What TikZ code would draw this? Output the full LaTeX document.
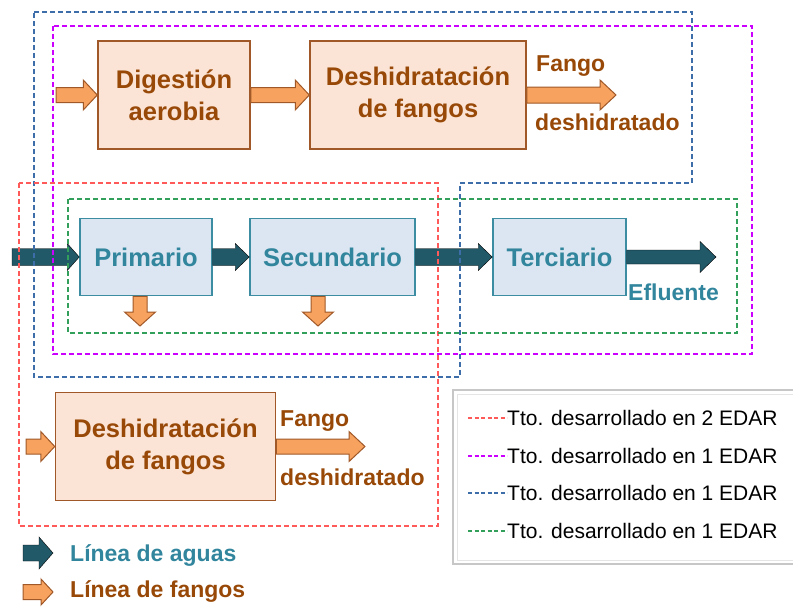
\documentclass[tikz,border=0pt]{standalone}
\usepackage{fontspec}
\setmainfont{Liberation Sans}
\usetikzlibrary{calc}
\definecolor{fangofill}{RGB}{251,228,213}
\definecolor{fangoline}{RGB}{160,88,40}
\definecolor{fangotext}{RGB}{152,72,7}
\definecolor{fangoorange}{RGB}{247,163,95}
\definecolor{aguafill}{RGB}{220,230,242}
\definecolor{agualine}{RGB}{60,140,162}
\definecolor{aguatext}{RGB}{49,133,156}
\definecolor{aguadark}{RGB}{33,89,104}
\definecolor{edarred}{RGB}{255,90,90}
\definecolor{edarmag}{RGB}{204,0,255}
\definecolor{edarblue}{RGB}{62,110,170}
\definecolor{edargreen}{RGB}{50,160,90}
%% block arrow: style, from, to, shaft half width, head half width, head length
\newcommand{\blockarrow}[6]{%
  \path (#2) coordinate (ba-a) (#3) coordinate (ba-b);
  \coordinate (ba-h) at ($(ba-b)!#6!(ba-a)$);
  \draw[#1] ($(ba-a)!#4!90:(ba-b)$) -- ($(ba-h)!#4!90:(ba-b)$) -- ($(ba-h)!#5!90:(ba-b)$)
    -- (ba-b) -- ($(ba-h)!#5!-90:(ba-b)$) -- ($(ba-h)!#4!-90:(ba-b)$) -- ($(ba-a)!#4!-90:(ba-b)$) -- cycle;}
\tikzset{
  fangobox/.style={draw=fangoline,fill=fangofill,line width=1.5pt,text=fangotext,
    font=\bfseries\fontsize{25.5}{32}\selectfont,align=center,minimum height=108pt,inner sep=0pt},
  aguabox/.style={draw=agualine,fill=aguafill,line width=1.5pt,text=aguatext,
    font=\bfseries\fontsize{25.5}{30}\selectfont,minimum height=77pt,inner sep=0pt},
  fangoarrow/.style={draw=fangoline,fill=fangoorange,line width=1pt},
  aguaarrow/.style={fill=aguadark},
  fangolabel/.style={text=fangotext,font=\bfseries\fontsize{23}{26}\selectfont,anchor=west,inner sep=0pt},
  agualabel/.style={text=aguatext,font=\bfseries\fontsize{23}{26}\selectfont,anchor=west,inner sep=0pt},
  edarframe/.style={dash pattern=on 5pt off 3pt,line width=1.4pt},
  legtext/.style={font=\fontsize{21}{24}\selectfont,anchor=west,inner sep=0pt}
}
\begin{document}
\begin{tikzpicture}[x=1pt,y=-1pt]
  \useasboundingbox (0,0) rectangle (793,608);
  %% sludge line, top
  \node[fangobox,minimum width=152pt] (dig) at (174,95) {Digestión\\aerobia};
  \node[fangobox,minimum width=216pt] (deshA) at (418,95) {Deshidratación\\de fangos};
  \coordinate (inA) at (56,95);
  \coordinate (outA) at (616,95);
  \blockarrow{fangoarrow}{inA}{dig.west}{7.5pt}{15pt}{14pt}
  \blockarrow{fangoarrow}{dig.east}{deshA.west}{7.5pt}{15pt}{14pt}
  \blockarrow{fangoarrow}{deshA.east}{outA}{8pt}{15pt}{16pt}
  \node[fangolabel] (fangoA) at (536,66) {Fango};
  \node[fangolabel] (deshidA) at (535,122) {deshidratado};
  %% water line
  \node[aguabox,minimum width=132pt] (prim) at (146,257) {Primario};
  \node[aguabox,minimum width=165pt] (sec) at (332.5,257) {Secundario};
  \node[aguabox,minimum width=133pt] (ter) at (559.5,257) {Terciario};
  \coordinate (win) at (12,257);
  \coordinate (wout) at (716,257);
  \blockarrow{aguaarrow}{win}{prim.west}{8.5pt}{13.5pt}{12pt}
  \blockarrow{aguaarrow}{prim.east}{sec.west}{8.5pt}{13.5pt}{14pt}
  \blockarrow{aguaarrow}{sec.east}{ter.west}{8.5pt}{13.5pt}{14pt}
  \blockarrow{aguaarrow}{ter.east}{wout}{7pt}{15.5pt}{16pt}
  \node[agualabel] (eflu) at (628,292) {Efluente};
  %% sludge out of primary and secondary
  \coordinate (pd) at (140,326);
  \coordinate (sd) at (318,326);
  \blockarrow{fangoarrow}{$(prim.south)+(-6,0)$}{pd}{7pt}{15.5pt}{14pt}
  \blockarrow{fangoarrow}{$(sec.south)+(-14.5,0)$}{sd}{7pt}{15.5pt}{14pt}
  %% sludge line, bottom
  \node[fangobox,minimum width=220pt] (deshB) at (165.5,446.5) {Deshidratación\\de fangos};
  \coordinate (inB) at (26,446.5);
  \coordinate (outB) at (365,446.5);
  \blockarrow{fangoarrow}{inB}{deshB.west}{7.5pt}{15pt}{14pt}
  \blockarrow{fangoarrow}{deshB.east}{outB}{7.5pt}{15pt}{16pt}
  \node[fangolabel] (fangoB) at (280,421) {Fango};
  \node[fangolabel] (deshidB) at (280,477) {deshidratado};
  %% EDAR frames
  \draw[edarframe,edarblue] (34,12) -- (692,12) -- (692,183) -- (460,183) -- (460,377) -- (34,377) -- cycle;
  \draw[edarframe,edarmag] (53,26) rectangle (752,354);
  \draw[edarframe,edarred] (19,183) rectangle (438,526);
  \draw[edarframe,edargreen] (68,199) rectangle (737,333);
  %% legend
  \draw[line width=1.5pt,black!22] (453,390) rectangle (800,564);
  \draw[line width=1pt,black!10] (457,394) rectangle (800,560);
  \foreach \c/\y/\n [count=\i] in {edarred/418/2,edarmag/456/1,edarblue/493/1,edargreen/531/1}{
    \node[legtext] (leg\i) at (507,\y) {Tto. desarrollado en \n\ EDAR};
    \draw[\c,dash pattern=on 4pt off 2.5pt,line width=1.2pt] ($(leg\i.west)+(-39,0)$) -- (leg\i.west);
  }
  \coordinate (la) at (23,553);
  \coordinate (lf) at (23,592);
  \node[agualabel] (aguas) at (70,555) {Línea de aguas};
  \node[fangolabel] (fangos) at (70,591) {Línea de fangos};
  \blockarrow{aguaarrow}{la}{$(la)+(30,0)$}{8pt}{16pt}{14pt}
  \blockarrow{fangoarrow}{lf}{$(lf)+(30,0)$}{7.5pt}{13pt}{12pt}
\end{tikzpicture}
\end{document}
